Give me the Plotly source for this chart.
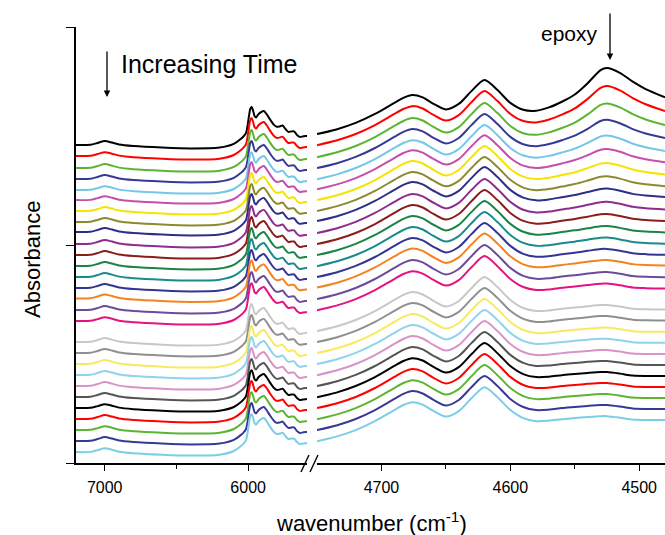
import numpy as np
import plotly.graph_objects as go

# ---------------- data ----------------
# vertical offset of each spectrum (value at 7200 cm-1), top (earliest) to bottom (latest)
OFFSETS = [1.459, 1.408, 1.353, 1.303, 1.252, 1.206, 1.156, 1.106, 1.060, 1.005,
           0.954, 0.904, 0.853, 0.803, 0.755, 0.702, 0.651,
           0.555, 0.505, 0.454, 0.404, 0.353, 0.303, 0.252, 0.202, 0.151, 0.101, 0.050]

# left panel (7200-5590 cm-1): common band profile above the 7200 cm-1 level
LEFT_WN = [7200, 7100, 7050, 7000, 6950, 6900, 6800, 6600, 6400, 6200, 6100, 6050, 6030,
           6015, 6005, 5995, 5985, 5975, 5965, 5955, 5945, 5930, 5910, 5890, 5870, 5850,
           5820, 5800, 5780, 5760, 5740, 5720, 5700, 5680, 5660, 5640, 5620, 5600, 5590]
LEFT_PROFILE = [0.000, 0.001, 0.009, 0.018, 0.011, 0.002, -0.005, -0.012, -0.016, -0.012,
                0.005, 0.028, 0.041, 0.055, 0.085, 0.130, 0.166, 0.174, 0.155, 0.132,
                0.126, 0.140, 0.151, 0.156, 0.140, 0.119, 0.092, 0.083, 0.085, 0.089,
                0.073, 0.060, 0.062, 0.062, 0.046, 0.037, 0.039, 0.041, 0.041]

# right panel (4750-4480 cm-1): profile of the final spectrum and the epoxy band shape
RIGHT_WN = [4750, 4735, 4720, 4705, 4690, 4683, 4676, 4668, 4660, 4650, 4640, 4630, 4620,
            4610, 4600, 4590, 4580, 4570, 4560, 4550, 4540, 4530, 4525, 4515, 4505, 4495, 4480]
RIGHT_PROFILE = [0.050, 0.071, 0.101, 0.142, 0.193, 0.216, 0.229, 0.218, 0.190, 0.163,
                 0.188, 0.248, 0.298, 0.252, 0.193, 0.156, 0.142, 0.144, 0.151, 0.156,
                 0.161, 0.165, 0.165, 0.158, 0.149, 0.147, 0.147]
EPOXY_BAND = [0, 0, 0, 0, 0, 0, 0, 0, 0, 0, 0, 0, 0, 0, 0, 0.03, 0.08, 0.15, 0.25, 0.40,
              0.65, 0.95, 1.00, 0.92, 0.75, 0.58, 0.38]
# extra epoxy (4527 cm-1) absorbance of each spectrum, decreasing with time
EPOXY_HEIGHT = [0.188, 0.156, 0.131, 0.106, 0.085, 0.069, 0.055, 0.044, 0.034, 0.028,
                0.023, 0.018, 0.016, 0.014, 0.011, 0.009, 0.007, 0.005, 0.004, 0.002,
                0.001, 0.0, 0.0, 0.0, 0.0, 0.0, 0.0, 0.0]

LEFT_TICKS = [7000, 6000]
RIGHT_TICKS = [4700, 4600, 4500]

# ---------------- styles ----------------
COLORS = ["#000000", "#ff0000", "#5cb531", "#363a96", "#72c8e6", "#c44fae", "#f5e400",
          "#8b8b2d", "#2e2e86", "#8e2d8e", "#8b1c1c", "#1a8447", "#1a8a8a", "#343494",
          "#f58220", "#6a4c9c", "#e6127f",
          "#c8c8c8", "#8f8f8f", "#f7ea60", "#8fd4ec", "#d993c8", "#555555", "#000000",
          "#ff0000", "#5cb531", "#363a96", "#7ccde8"]

FONT = "Arial, Liberation Sans, sans-serif"
W, H = 665, 535
ML, MR, MT, MB = 76, 0, 27, 72
PW, PH = W - ML - MR, H - MT - MB


def px(xp):
    return (xp - ML) / PW


def py(yp):
    return (H - MB - yp) / PH


fig = go.Figure()
lp = np.array(LEFT_PROFILE)
rp = np.array(RIGHT_PROFILE)
eb = np.array(EPOXY_BAND)
for i, off in enumerate(OFFSETS):
    c = COLORS[i]
    fig.add_trace(go.Scatter(x=LEFT_WN, y=off + lp, mode="lines",
                             line=dict(color=c, width=2, shape="spline", smoothing=0.7),
                             xaxis="x", yaxis="y", showlegend=False, hoverinfo="skip"))
    fig.add_trace(go.Scatter(x=RIGHT_WN, y=off + rp + EPOXY_HEIGHT[i] * eb, mode="lines",
                             line=dict(color=c, width=2, shape="spline", smoothing=0.8),
                             xaxis="x2", yaxis="y", showlegend=False, hoverinfo="skip"))

axcommon = dict(showline=True, linecolor="black", linewidth=1.6, ticks="outside",
                ticklen=6, tickwidth=1.4, tickcolor="black", showgrid=False, zeroline=False,
                ticklabelstandoff=3,
                tickfont=dict(family=FONT, size=16, color="black"))

fig.update_layout(
    width=W, height=H, margin=dict(l=ML, r=MR, t=MT, b=MB),
    paper_bgcolor="white", plot_bgcolor="white",
    xaxis=dict(domain=[0, px(307)], range=[7200, 5590], tickvals=LEFT_TICKS, anchor="y",
               minor=dict(tickvals=[6500], ticks="outside", ticklen=4, tickwidth=1.4,
                          tickcolor="black"), **axcommon),
    xaxis2=dict(domain=[px(317), 1], range=[4750, 4480], tickvals=RIGHT_TICKS, anchor="y",
                minor=dict(tickvals=[4650, 4550], ticks="outside", ticklen=4, tickwidth=1.4,
                           tickcolor="black"), **axcommon),
    yaxis=dict(domain=[0, 1], range=[0, 2], tickvals=[0, 1, 2], showticklabels=False,
               showline=True, linecolor="black", linewidth=1.8, ticks="outside", ticklen=8,
               tickwidth=1.4, tickcolor="black", showgrid=False, zeroline=False),
    showlegend=False,
)

# axis break marks
for x0 in (301, 310):
    fig.add_shape(type="line", xref="paper", yref="paper",
                  x0=px(x0), y0=py(472), x1=px(x0 + 8), y1=py(455),
                  line=dict(color="black", width=1.4))

ann = [
    dict(text="wavenumber (cm<sup>-1</sup>)", x=px(371), y=py(522), xanchor="center",
         yanchor="middle", font=dict(size=22)),
    dict(text="Absorbance", x=px(32), y=py(260), xanchor="center", yanchor="middle",
         textangle=-90, font=dict(size=22)),
    dict(text="Increasing Time", x=px(119), y=py(64), xanchor="left", yanchor="middle",
         font=dict(size=25)),
    dict(text="epoxy", x=px(539), y=py(34), xanchor="left", yanchor="middle",
         font=dict(size=21)),
]
for a in ann:
    a.update(xref="paper", yref="paper", showarrow=False)
    a["font"].update(family=FONT, color="black")
    fig.add_annotation(**a)

for (xt, yt, ylen) in [(107, 97, 47), (610, 60, 48)]:
    fig.add_annotation(xref="paper", yref="paper", x=px(xt), y=py(yt), text="",
                       showarrow=True, ax=0, ay=-ylen, arrowhead=2, arrowsize=1,
                       arrowwidth=1.3, arrowcolor="black", standoff=0)

fig.write_html("out.html", config={"displayModeBar": False},
               post_script="document.body.style.margin='0px';document.body.style.overflow='hidden';")
